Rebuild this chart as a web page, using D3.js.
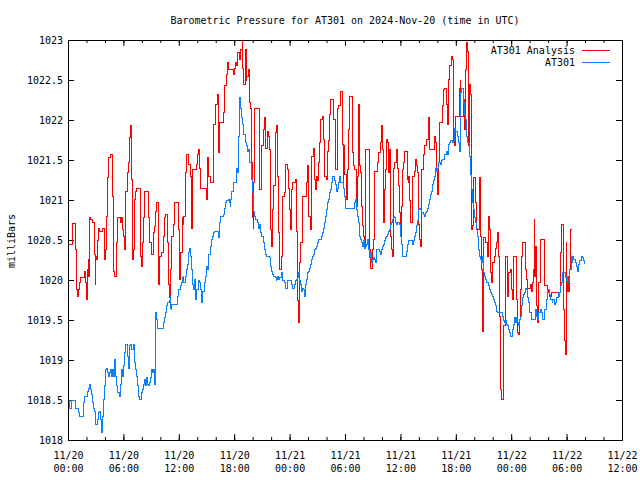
<!DOCTYPE html>
<html><head><meta charset="utf-8">
<script src="https://cdn.jsdelivr.net/npm/d3@7"></script>
<style>
body{margin:0;background:#fff}
svg{display:block}
text{font-family:"DejaVu Sans Mono",monospace;font-size:10px;fill:#000}
</style>
</head><body>
<svg id="chart" width="640" height="480"></svg>
<script>
const titleText = "Barometric Pressure for AT301 on 2024-Nov-20 (time in UTC)";
const yAxisLabel = "milliBars";
const seriesNames = ["AT301 Analysis", "AT301"];
const seriesColors = ["#ff0000", "#0a80ff"];
const yTickValues = [1018, 1018.5, 1019, 1019.5, 1020, 1020.5, 1021, 1021.5, 1022, 1022.5, 1023];
const xStartUTC = Date.UTC(2024, 10, 20, 0, 0);
const xEndUTC = Date.UTC(2024, 10, 22, 12, 0);

// hours since 2024-11-20 00:00 UTC
const analysisHours = [0.00,0.10,0.45,0.79,0.87,0.94,1.05,1.16,1.23,1.34,1.80,1.88,1.99,2.09,2.17,2.24,2.27,2.35,2.45,2.60,2.92,2.96,3.03,3.10,3.21,3.28,3.39,3.79,3.90,4.04,4.12,4.19,4.26,4.37,4.58,4.77,4.84,4.91,5.02,5.20,5.38,5.67,5.78,5.92,6.00,6.14,6.21,6.28,6.39,6.50,6.64,6.75,6.93,7.00,7.11,7.18,7.29,7.44,7.87,7.98,8.09,8.16,8.27,8.77,8.88,8.99,9.24,9.35,9.46,9.60,9.82,9.93,10.18,10.29,10.40,10.54,10.83,10.90,11.01,11.12,11.26,11.41,11.55,11.99,12.06,12.17,12.35,12.46,12.56,12.71,12.82,13.00,13.29,13.36,13.43,13.50,13.90,14.01,14.15,14.26,14.37,14.98,15.09,15.16,15.27,15.38,15.74,15.81,15.96,16.14,16.25,16.35,16.46,16.79,16.90,16.97,17.15,17.26,17.40,17.87,17.98,18.12,18.27,18.41,18.56,18.70,18.85,18.95,19.06,19.21,19.28,19.35,19.60,19.71,19.75,19.82,19.93,20.07,20.14,20.25,20.79,20.97,21.15,21.23,21.44,21.59,21.70,21.80,21.88,21.95,22.06,22.16,22.31,22.45,22.60,22.71,22.78,22.85,22.96,23.07,23.18,23.43,23.61,23.75,23.86,23.97,24.08,24.22,24.33,24.69,24.76,24.87,24.98,25.12,25.23,25.38,25.85,25.96,26.06,26.21,26.32,26.42,26.57,26.68,26.82,26.93,27.04,27.15,27.29,27.40,27.58,27.72,27.83,28.01,28.12,28.23,28.37,28.48,28.74,28.92,29.02,29.17,29.31,29.46,29.72,29.79,29.86,29.97,30.11,30.22,30.33,30.47,30.76,30.94,31.05,31.20,31.30,31.49,31.56,31.67,31.77,31.92,32.03,32.13,32.21,32.68,32.78,32.93,33.04,33.15,33.22,33.51,33.65,33.83,33.94,34.01,34.16,34.26,34.37,34.48,34.59,34.70,34.81,34.91,35.02,35.10,35.20,35.28,35.38,35.53,35.64,35.82,35.93,36.03,36.14,36.25,36.36,36.47,36.72,36.83,36.90,37.01,37.12,37.26,37.48,37.62,37.69,37.84,37.95,38.06,38.16,38.27,38.52,38.63,38.78,38.99,39.14,39.72,39.80,39.90,40.00,40.11,40.22,40.51,40.61,40.72,40.83,40.94,41.08,41.16,41.26,41.37,41.52,41.63,41.73,41.88,41.99,42.35,42.46,42.53,42.78,42.89,43.00,43.11,43.18,43.25,43.36,43.47,43.57,43.68,43.79,43.90,44.15,44.26,44.55,44.69,44.77,44.87,44.98,45.05,45.27,45.42,45.52,45.63,45.78,45.89,45.99,46.14,46.25,46.36,46.50,46.61,46.72,46.79,46.93,47.22,47.33,47.58,47.76,47.87,47.98,48.09,48.20,48.59,48.66,48.77,48.88,49.03,49.13,49.21,49.50,49.60,49.70,49.80,50.14,50.25,50.32,50.39,50.50,50.57,50.68,50.79,50.90,51.01,51.12,51.19,51.66,51.91,52.05,52.20,52.34,53.32,53.43,53.68,53.79,53.90,53.97,54.04,54.15,54.22,54.33,54.44,54.55];
const analysisValues = [1020.20,1020.45,1020.71,1020.38,1020.05,1019.88,1019.80,1019.88,1019.97,1020.03,1020.11,1019.97,1019.76,1020.13,1020.05,1020.26,1020.05,1020.78,1020.76,1020.72,1020.32,1019.95,1020.30,1020.26,1020.49,1020.65,1020.61,1020.65,1020.26,1020.38,1020.45,1020.80,1021.28,1021.53,1021.57,1021.47,1021.05,1020.11,1020.05,1020.47,1020.78,1020.72,1020.78,1020.63,1020.55,1020.38,1020.63,1021.11,1021.34,1021.47,1021.78,1021.93,1021.26,1020.26,1020.38,1021.01,1021.11,1021.14,1020.30,1020.17,1020.47,1020.78,1021.11,1020.78,1020.47,1020.32,1020.59,1020.67,1020.86,1020.97,1019.95,1020.30,1020.34,1020.55,1020.78,1020.82,1020.47,1019.95,1019.78,1020.13,1020.55,1020.70,1020.97,1020.63,1020.01,1020.34,1020.78,1020.70,1020.80,1021.34,1021.57,1021.45,1021.30,1020.65,1020.97,1021.38,1021.45,1021.57,1021.63,1021.40,1021.15,1021.01,1021.40,1021.53,1021.30,1021.22,1021.43,1021.95,1022.20,1022.32,1022.05,1021.59,1021.97,1022.09,1022.28,1022.43,1022.57,1022.72,1022.63,1022.57,1022.65,1022.72,1022.68,1022.84,1022.76,1022.88,1022.99,1022.65,1022.45,1022.88,1022.49,1022.55,1022.63,1022.22,1022.15,1021.47,1020.78,1020.65,1021.22,1022.15,1021.13,1021.68,1021.88,1022.03,1021.65,1021.86,1021.80,1021.63,1021.45,1020.63,1020.42,1020.88,1021.18,1021.84,1021.93,1021.30,1020.88,1020.59,1020.13,1020.30,1021.05,1021.09,1021.45,1021.38,1021.15,1020.88,1020.63,1021.13,1021.22,1021.26,1020.61,1019.74,1019.47,1020.22,1020.47,1021.05,1021.22,1021.43,1020.80,1020.63,1021.28,1021.55,1021.65,1021.26,1021.13,1021.30,1021.24,1021.47,1021.72,1022.01,1022.05,1021.76,1021.30,1021.26,1021.61,1021.74,1022.07,1022.26,1022.01,1021.43,1021.38,1022.15,1022.18,1022.36,1021.70,1021.22,1021.68,1021.32,1021.01,1021.38,1021.88,1022.30,1021.59,1021.43,1021.38,1020.92,1021.30,1022.20,1021.43,1021.34,1020.92,1020.68,1020.55,1020.40,1021.63,1020.38,1020.15,1020.38,1020.51,1021.09,1021.36,1021.47,1021.59,1021.72,1021.93,1021.63,1020.72,1021.13,1021.38,1021.76,1021.72,1021.34,1021.63,1020.55,1020.38,1020.30,1020.97,1021.40,1021.47,1021.63,1021.40,1021.18,1020.84,1020.55,1020.92,1021.38,1021.47,1021.61,1021.26,1021.22,1021.30,1020.99,1020.72,1021.30,1021.36,1021.51,1021.43,1021.34,1020.70,1020.51,1020.42,1021.38,1021.57,1021.68,1021.76,1022.03,1021.63,1021.80,1021.72,1021.38,1021.07,1021.47,1021.97,1022.05,1022.18,1022.38,1022.40,1022.20,1021.95,1022.34,1022.51,1022.68,1022.80,1022.76,1021.76,1021.68,1022.05,1022.40,1022.49,1022.05,1022.26,1021.88,1022.63,1022.88,1022.97,1022.86,1021.68,1022.45,1022.32,1020.63,1020.68,1021.28,1020.97,1020.63,1021.28,1020.55,1020.13,1019.36,1020.13,1020.53,1020.47,1020.30,1020.80,1020.63,1020.09,1019.97,1020.22,1020.30,1020.40,1020.47,1020.59,1020.30,1019.55,1018.63,1018.51,1019.43,1020.30,1019.80,1020.09,1020.13,1019.88,1019.76,1020.30,1019.76,1019.34,1019.32,1019.51,1019.88,1020.30,1020.47,1020.30,1020.13,1020.01,1019.90,1019.95,1019.86,1019.97,1020.13,1020.76,1020.05,1020.42,1019.68,1019.47,1019.97,1020.30,1020.51,1019.93,1019.88,1019.84,1019.80,1019.84,1020.34,1020.70,1019.63,1019.24,1019.07,1020.47,1019.86,1020.05,1019.86,1020.13,1020.63,1020.63];

const stationHours = [0.00,0.20,0.35,0.79,1.16,1.23,1.70,1.80,2.06,2.17,2.31,2.42,2.53,2.60,2.67,2.78,2.89,2.96,3.18,3.28,3.39,3.47,3.54,3.61,3.68,3.75,3.86,3.97,4.08,4.19,4.30,4.40,4.51,4.62,4.73,4.84,4.95,5.02,5.13,5.23,5.34,5.56,5.67,5.78,5.88,5.99,6.10,6.21,6.46,6.57,6.64,6.71,6.82,6.93,7.04,7.15,7.22,7.29,7.40,7.51,7.62,7.73,7.94,8.05,8.16,8.27,8.38,8.48,8.59,8.70,8.81,8.92,9.03,9.13,9.24,9.35,9.46,9.53,9.60,9.71,10.36,10.47,10.58,10.69,10.83,10.94,11.05,11.12,11.19,11.26,11.84,11.91,12.02,12.13,12.24,12.35,12.46,12.56,12.71,12.82,12.93,13.03,13.14,13.25,13.36,13.47,13.58,13.68,13.79,13.90,13.97,14.08,14.19,14.30,14.41,14.51,14.62,14.73,14.84,14.95,15.05,15.16,15.27,15.38,15.49,15.60,15.81,15.92,16.25,16.35,16.46,16.57,16.79,16.90,17.00,17.11,17.22,17.33,17.44,17.55,17.65,17.76,17.87,18.20,18.30,18.41,18.48,18.56,18.63,18.74,18.85,18.95,19.06,19.17,19.28,19.39,19.60,19.71,19.86,19.93,20.04,20.14,20.25,20.36,20.47,20.58,20.68,20.79,20.90,21.01,21.12,21.23,21.33,21.44,21.55,21.77,21.88,21.98,22.09,22.20,22.31,22.42,22.53,22.63,22.74,22.85,22.96,23.07,23.18,23.28,23.50,23.61,23.72,24.19,24.30,24.51,24.62,24.73,24.84,24.94,25.05,25.16,25.27,25.38,25.49,25.59,25.70,25.81,25.92,26.03,26.14,26.24,26.35,26.46,26.57,26.68,26.79,26.89,27.00,27.11,27.44,27.54,27.65,27.76,27.87,27.98,28.09,28.19,28.30,28.41,28.52,28.63,28.84,28.95,29.06,29.17,29.28,29.39,29.49,29.82,29.93,30.08,31.05,31.16,31.27,31.38,31.49,31.59,31.70,31.81,31.92,32.03,32.13,32.24,32.35,32.46,32.57,32.68,32.78,32.89,33.00,33.11,33.22,33.33,33.43,33.76,33.87,33.98,34.08,34.19,34.30,34.41,34.52,34.63,34.73,34.84,34.95,35.06,35.17,35.28,35.38,35.49,35.60,35.71,35.93,36.03,36.14,36.25,36.68,36.79,36.90,37.33,37.44,37.55,37.66,37.77,37.87,37.98,38.09,38.20,38.31,38.52,38.63,38.74,38.85,38.96,39.07,39.17,39.28,39.39,39.50,39.61,39.72,39.82,39.93,40.07,40.18,40.29,40.40,40.51,40.83,40.94,41.05,41.16,41.26,41.37,41.48,41.59,41.70,41.81,41.91,42.02,42.13,42.24,42.35,42.46,42.56,42.67,42.78,42.89,43.00,43.11,43.21,43.32,43.43,43.54,43.61,43.68,43.79,43.90,44.01,44.12,44.22,44.33,44.44,44.55,44.66,44.77,44.87,44.98,45.09,45.20,45.31,45.52,45.63,45.74,45.85,45.96,46.07,46.17,46.28,46.39,46.50,46.61,47.04,47.15,47.26,47.37,47.47,47.58,47.69,47.80,47.91,48.12,48.23,48.34,48.45,48.56,48.66,48.77,48.88,48.99,49.10,49.21,49.31,49.42,49.53,49.64,49.75,49.86,49.93,50.25,50.68,50.79,50.90,51.01,51.12,51.23,51.34,51.66,51.77,51.87,51.98,52.20,52.31,52.42,52.52,52.74,52.85,52.96,53.07,53.17,53.28,53.39,53.50,53.61,53.83,53.94,54.04,54.15,54.26,54.48,54.59,54.69,54.80,54.91,55.02,55.13,55.24,55.34,55.45,55.56,55.67,55.78,55.89,55.99];
const stationValues = [1018.49,1018.40,1018.49,1018.40,1018.34,1018.30,1018.47,1018.55,1018.61,1018.65,1018.70,1018.63,1018.57,1018.53,1018.47,1018.40,1018.36,1018.20,1018.26,1018.34,1018.36,1018.32,1018.26,1018.22,1018.09,1018.30,1018.51,1018.68,1018.88,1018.90,1018.84,1018.80,1018.84,1018.88,1018.80,1018.88,1018.80,1019.01,1018.80,1018.68,1018.59,1018.55,1018.70,1018.88,1018.80,1018.93,1019.09,1019.20,1019.05,1018.90,1019.05,1019.18,1019.20,1019.13,1019.20,1019.09,1018.97,1018.88,1018.80,1018.68,1018.55,1018.51,1018.59,1018.63,1018.70,1018.76,1018.68,1018.78,1018.70,1018.68,1018.72,1018.78,1018.88,1018.84,1018.88,1018.70,1019.15,1019.59,1019.51,1019.40,1019.47,1019.53,1019.60,1019.68,1019.72,1019.74,1019.80,1019.65,1019.63,1019.70,1019.76,1019.80,1019.88,1019.93,1019.97,1020.03,1020.05,1019.97,1020.05,1020.13,1020.20,1020.34,1020.40,1020.30,1020.13,1019.95,1019.88,1020.01,1019.76,1019.78,1019.88,1019.99,1019.97,1019.88,1019.80,1019.72,1019.86,1019.97,1020.05,1020.11,1020.17,1020.13,1020.32,1020.42,1020.51,1020.55,1020.59,1020.61,1020.55,1020.53,1020.72,1020.80,1020.82,1020.86,1020.90,1020.97,1020.99,1021.01,1020.97,1020.92,1021.01,1021.11,1021.22,1021.30,1021.40,1021.34,1021.80,1022.28,1022.15,1022.03,1021.97,1021.95,1021.82,1021.72,1021.68,1021.61,1021.63,1021.47,1021.26,1021.09,1020.97,1020.86,1020.80,1020.76,1020.72,1020.68,1020.65,1020.70,1020.59,1020.55,1020.47,1020.42,1020.38,1020.32,1020.30,1020.28,1020.22,1020.17,1020.11,1020.07,1020.05,1020.03,1019.99,1020.01,1020.05,1020.01,1020.03,1020.09,1020.08,1019.99,1019.97,1019.90,1019.99,1019.95,1019.90,1019.95,1019.99,1020.01,1020.03,1020.09,1019.99,1019.95,1019.86,1019.90,1019.88,1019.80,1019.95,1020.01,1020.09,1020.11,1020.15,1020.20,1020.26,1020.30,1020.32,1020.38,1020.40,1020.42,1020.47,1020.51,1020.55,1020.59,1020.65,1020.72,1020.80,1020.88,1020.97,1021.01,1021.09,1021.13,1021.22,1021.30,1021.24,1021.20,1021.11,1021.15,1021.22,1021.30,1021.22,1021.15,1021.05,1020.90,1020.97,1021.01,1020.88,1020.80,1020.72,1020.55,1020.51,1020.47,1020.42,1020.49,1020.40,1020.42,1020.45,1020.51,1020.38,1020.28,1020.34,1020.22,1020.26,1020.28,1020.26,1020.22,1020.38,1020.36,1020.32,1020.38,1020.42,1020.45,1020.49,1020.53,1020.55,1020.57,1020.61,1020.63,1020.70,1020.72,1020.76,1020.80,1020.78,1020.72,1020.70,1020.72,1020.70,1020.55,1020.45,1020.30,1020.36,1020.45,1020.50,1020.45,1020.50,1020.55,1020.59,1020.68,1020.74,1020.88,1020.90,1020.88,1020.84,1020.82,1020.80,1020.84,1020.86,1020.90,1020.95,1021.01,1021.07,1021.11,1021.20,1021.24,1021.30,1021.40,1021.36,1021.40,1021.47,1021.45,1021.49,1021.51,1021.57,1021.61,1021.57,1021.59,1021.70,1021.72,1021.74,1021.72,1021.74,1021.80,1021.90,1021.86,1021.80,1021.72,1021.61,1021.68,1022.34,1022.40,1022.22,1022.07,1022.01,1021.90,1021.80,1021.72,1021.55,1021.38,1021.32,1021.13,1020.97,1020.88,1020.78,1020.72,1020.65,1020.55,1020.38,1020.30,1020.26,1020.22,1020.30,1020.09,1020.05,1020.01,1019.97,1019.93,1019.88,1019.84,1019.82,1019.80,1019.76,1019.72,1019.68,1019.61,1019.60,1019.59,1019.55,1019.49,1019.47,1019.49,1019.45,1019.43,1019.38,1019.34,1019.30,1019.38,1019.45,1019.53,1019.47,1019.53,1019.47,1019.43,1019.51,1019.55,1019.68,1019.78,1019.82,1019.84,1019.90,1019.88,1019.78,1019.72,1019.59,1019.51,1019.63,1019.55,1019.51,1019.59,1019.63,1019.59,1019.51,1019.63,1019.72,1019.76,1019.88,1019.82,1019.76,1019.72,1019.76,1019.70,1019.72,1019.78,1019.84,1019.80,1019.84,1019.93,1019.97,1020.09,1020.03,1019.99,1020.05,1019.97,1020.13,1020.30,1020.22,1020.30,1020.26,1020.22,1020.17,1020.11,1020.15,1020.20,1020.24,1020.30,1020.28,1020.25,1020.22,1020.20];

const svg = d3.select("#chart");
const L = 68, R = 622, T = 40, B = 440;
const toDate = h => new Date(xStartUTC + h * 3600000);

const x = d3.scaleUtc().domain([new Date(xStartUTC), new Date(xEndUTC)]).range([L, R]);
const y = d3.scaleLinear().domain([1018, 1023]).range([B, T]);

const majorTicks = d3.utcHour.every(6).range(new Date(xStartUTC), new Date(xEndUTC + 1));
const minorTicks = d3.utcHour.every(2).range(new Date(xStartUTC), new Date(xEndUTC + 1));

// minor ticks
svg.append("g").attr("transform", `translate(0,${B})`)
  .call(d3.axisBottom(x).tickValues(minorTicks).tickSizeInner(-3).tickSizeOuter(0).tickFormat(""))
  .call(g => g.select(".domain").remove());
svg.append("g").attr("transform", `translate(0,${T})`)
  .call(d3.axisTop(x).tickValues(minorTicks).tickSizeInner(-3).tickSizeOuter(0).tickFormat(""))
  .call(g => g.select(".domain").remove());

// major x ticks
const fmtDay = d3.utcFormat("%m/%d"), fmtTime = d3.utcFormat("%H:%M");
const xb = svg.append("g").attr("transform", `translate(0,${B})`)
  .call(d3.axisBottom(x).tickValues(majorTicks).tickSizeInner(-6).tickSizeOuter(0).tickFormat(""))
  .call(g => g.select(".domain").remove());
xb.selectAll(".tick text").remove();
xb.selectAll(".tick").each(function(d) {
  const t = d3.select(this).append("text").attr("text-anchor", "middle");
  t.append("tspan").attr("x", 0).attr("y", 18.5).text(fmtDay(d));
  t.append("tspan").attr("x", 0).attr("y", 31.5).text(fmtTime(d));
});
svg.append("g").attr("transform", `translate(0,${T})`)
  .call(d3.axisTop(x).tickValues(majorTicks).tickSizeInner(-6).tickSizeOuter(0).tickFormat(""))
  .call(g => g.select(".domain").remove());

// y axes
const yFmt = v => (Number.isInteger(v) ? String(v) : v.toFixed(1));
const yl = svg.append("g").attr("transform", `translate(${L},0)`)
  .call(d3.axisLeft(y).tickValues(yTickValues).tickSizeInner(-6).tickSizeOuter(0).tickPadding(5).tickFormat(yFmt))
  .call(g => g.select(".domain").remove());
yl.selectAll(".tick text").attr("dy", "0.36em").attr("x", -5);
svg.append("g").attr("transform", `translate(${R},0)`)
  .call(d3.axisRight(y).tickValues(yTickValues).tickSizeInner(-6).tickSizeOuter(0).tickFormat(""))
  .call(g => g.select(".domain").remove());

svg.selectAll(".tick line").attr("stroke", "#000");
svg.selectAll("g").attr("font-family", null).attr("font-size", null);

// data
const line = d3.line().x(d => x(toDate(d[0]))).y(d => y(d[1])).curve(d3.curveStepAfter);
const analysisData = analysisHours.map((h, i) => [h, analysisValues[i]]);
const stationData = stationHours.map((h, i) => [h, stationValues[i]]);

svg.append("path").datum(analysisData).attr("d", line)
  .attr("fill", "none").attr("stroke", seriesColors[0]).attr("stroke-width", 1)
  .attr("shape-rendering", "crispEdges");
svg.append("path").datum(stationData).attr("d", line)
  .attr("fill", "none").attr("stroke", seriesColors[1]).attr("stroke-width", 1)
  .attr("shape-rendering", "crispEdges");

// frame
svg.append("rect").attr("x", L + 0.5).attr("y", T + 0.5).attr("width", R - L).attr("height", B - T)
  .attr("fill", "none").attr("stroke", "#000").attr("stroke-width", 1);

// title and labels
svg.append("text").attr("x", (L + R) / 2).attr("y", 24).attr("text-anchor", "middle").text(titleText);
svg.append("text").attr("transform", "translate(15,241) rotate(-90)").attr("text-anchor", "middle").text(yAxisLabel);

// legend
seriesNames.forEach((name, i) => {
  const ly = 50.5 + i * 12;
  svg.append("text").attr("x", 575).attr("y", ly + 3.6).attr("text-anchor", "end").text(name);
  svg.append("line").attr("x1", 582).attr("x2", 610).attr("y1", ly).attr("y2", ly)
    .attr("stroke", seriesColors[i]).attr("stroke-width", 1);
});
</script>
</body></html>
